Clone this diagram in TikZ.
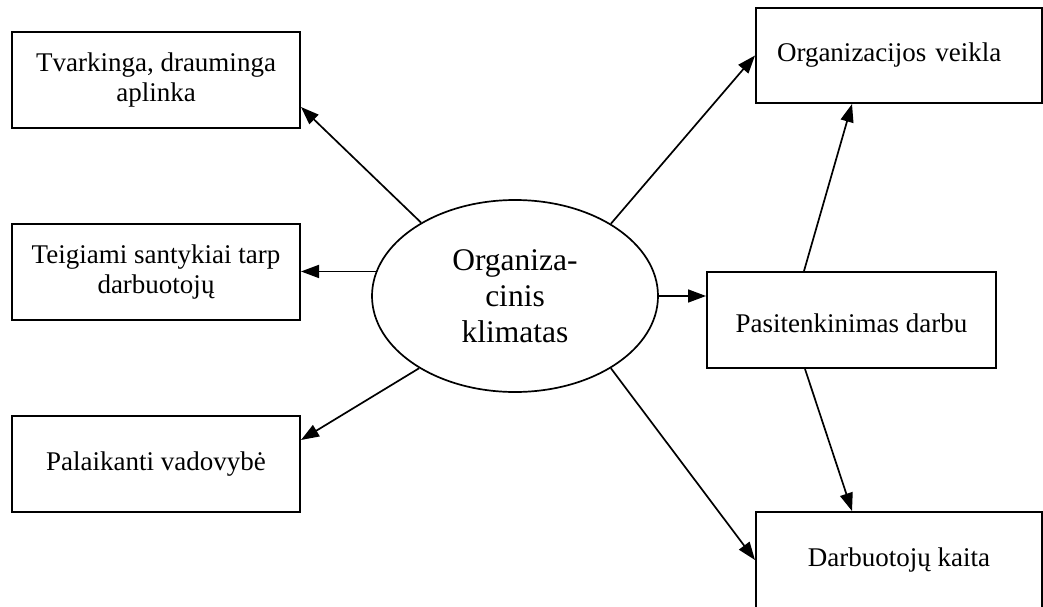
\documentclass[tikz,border=0pt]{standalone}
\usepackage{fontspec}
\setmainfont{Liberation Serif}
\usetikzlibrary{arrows.meta,shapes.geometric}
\begin{document}
\begin{tikzpicture}[x=1pt,y=-1pt,
  box/.style={draw,line width=2pt,minimum width=288pt,minimum height=96pt,inner sep=0pt,align=center,font=\fontsize{27}{30}\selectfont},
  conn/.style={line width=1.7pt,-{Triangle[length=18pt,width=13pt]}},
  oval/.style={draw,ellipse,line width=1.7pt,minimum width=286pt,minimum height=192pt,inner sep=0pt,align=center,font=\fontsize{31.5}{36}\selectfont}
]
\useasboundingbox (0,0) rectangle (1043,607);
\node[box] (A) at (156,80) {Tvarkinga, drauminga\\aplinka};
\node[box] (B) at (156,272) {Teigiami santykiai tarp\\darbuotojų};
\node[box] (C) at (156,464) {Palaikanti vadovybė};
\node[box,minimum width=286pt,minimum height=95pt,text width=244pt,inner xsep=21pt,align=left] (D) at (899,55.5) {Organizacijos veikla};
\node[box,minimum width=289pt,text height=30pt,text depth=6pt] (P) at (851.5,320) {Pasitenkinimas darbu};
\node[box,minimum width=286pt] (F) at (899,560) {Darbuotojų kaita};
\node[oval] (E) at (515,296) {Organiza-\\cinis\\klimatas};

\draw[conn] (E.142.5) -- ([yshift=-27pt]A.east);
\draw[conn] (E.170) -- (E.170 -| B.east);
\draw[conn] (E.217) -- ([yshift=24pt]C.east);
\draw[conn] (E.37) -- (D.west);
\draw[conn] (E.east) -- (E.east -| P.west);
\draw[conn] (E.-37) -- (F.west);
\draw[conn] ([xshift=-47.5pt]P.north) -- ([xshift=-47pt]D.south);
\draw[conn] ([xshift=-46.5pt]P.south) -- ([xshift=-47pt]F.north);
\end{tikzpicture}
\end{document}
